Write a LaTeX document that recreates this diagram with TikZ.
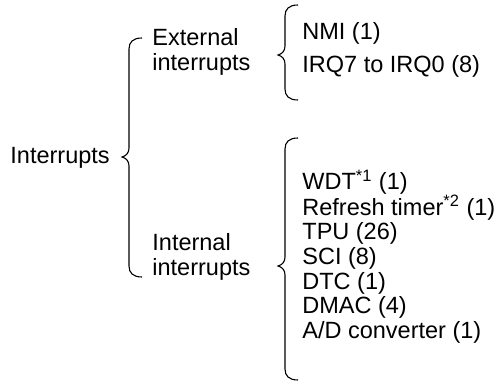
\documentclass[tikz,border=0pt]{standalone}
\usepackage{fontspec}
\setmainfont{Liberation Sans}
\usetikzlibrary{positioning}

% curly brace: spine x, top y, tip y, bottom y
\newcommand{\curlybrace}[4]{%
  \draw[brace line] (#1+13,#2) .. controls (#1+4,#2) and (#1,#2+4) .. (#1,#2+11)
    -- (#1,#3-9) .. controls (#1,#3-4) and (#1-3,#3-1) .. (#1-7,#3)
    .. controls (#1-3,#3+1) and (#1,#3+4) .. (#1,#3+9)
    -- (#1,#4-11) .. controls (#1,#4-4) and (#1+4,#4) .. (#1+13,#4);}

\begin{document}
\begin{tikzpicture}[x=0.5pt, y=-0.5pt,
    lbl/.style={anchor=base west, inner sep=0pt, align=left, font=\fontsize{11.75}{12.5}\selectfont},
    brace line/.style={line width=0.55pt, black}]
            \useasboundingbox (0,0) rectangle (501,384);

            % Root
            \node[lbl] (root) at (10,164) {Interrupts};
            \curlybrace{129}{38}{157}{277}

            % External
            \node[lbl] (ext) at (152,71) {External\\interrupts};
            \curlybrace{285}{5}{55}{100}
            \node[lbl] (nmi) at (302,40) {NMI (1)};
            \node[lbl] (irq) at (302,73) {IRQ7 to IRQ0 (8)};

            % Internal
            \node[lbl] (int) at (152,275) {Internal\\interrupts};
            \curlybrace{285}{138}{266}{380}
            \node[lbl] (wdt) at (302,190) {WDT\textsuperscript{*1} (1)};
            \node[lbl] (rfsh) at (302,215) {Refresh timer\textsuperscript{*2} (1)};
            \node[lbl] (tpu) at (302,239) {TPU (26)};
            \node[lbl] (sci) at (302,264) {SCI (8)};
            \node[lbl] (dtc) at (302,289) {DTC (1)};
            \node[lbl] (dmac) at (302,313) {DMAC (4)};
            \node[lbl] (adc) at (302,338) {A/D converter (1)};
        \end{tikzpicture}
\end{document}
